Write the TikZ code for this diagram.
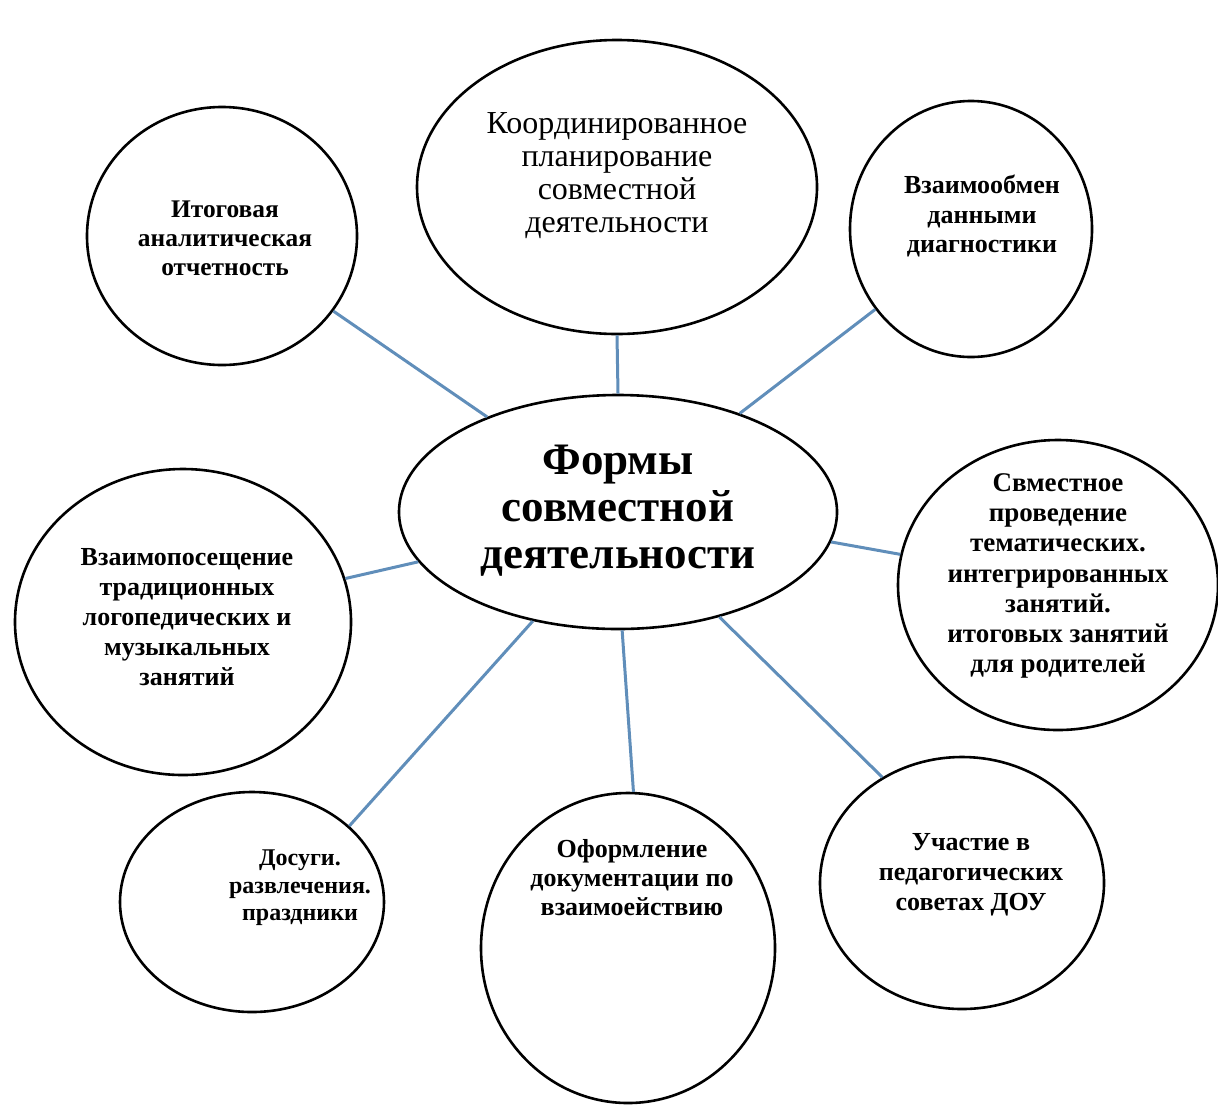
\documentclass[tikz,border=0pt]{standalone}
\usepackage{fontspec}
\setmainfont{Liberation Serif}
\usetikzlibrary{shapes.geometric}
\definecolor{linkblue}{RGB}{96,142,186}

\begin{document}
\begin{tikzpicture}[x=0.5pt, y=-0.5pt,
    bubble/.style={ellipse, draw, line width=1.3pt, inner sep=0pt},
    link/.style={linkblue, line width=1.5pt},
    txt/.style 2 args={align=center, inner sep=0pt,
      font=\fontsize{#1}{#2}\selectfont\bfseries}]

    \useasboundingbox (0,0) rectangle (1218,1104);

    % ellipses: minimum width = rx, minimum height = ry (in pt)
    \node[bubble, minimum width=219pt, minimum height=117pt] (form)    at (618,512) {};
    \node[bubble, minimum width=200pt, minimum height=147pt] (plan)    at (617,187) {};
    \node[bubble, minimum width=135pt, minimum height=129pt] (report)  at (222,236) {};
    \node[bubble, minimum width=121pt, minimum height=128pt] (exch)    at (971,229) {};
    \node[bubble, minimum width=168pt, minimum height=153pt] (visit)   at (183,622) {};
    \node[bubble, minimum width=160pt, minimum height=145pt] (lesson)  at (1058,585) {};
    \node[bubble, minimum width=132pt, minimum height=110pt] (leisure) at (252,902) {};
    \node[bubble, minimum width=147pt, minimum height=155pt] (doc)     at (628,948) {};
    \node[bubble, minimum width=142pt, minimum height=126pt] (council) at (962,883) {};

    % texts
    \node[txt={22.5}{23.5}] (formtxt) at (618,511)
      {Формы\\совместной\\деятельности};
    \node[txt={16}{16.5}, font=\fontsize{16}{16.5}\selectfont\mdseries] (plantxt) at (617,176)
      {Координированное\\планирование\\совместной\\деятельности};
    \node[txt={12.7}{14.5}] (reporttxt) at (225,238)
      {Итоговая\\аналитическая\\отчетность};
    \node[txt={13}{14.75}] (exchtxt) at (982,216)
      {Взаимообмен\\данными\\диагностики};
    \node[txt={13}{15}] (visittxt) at (187,617)
      {Взаимопосещение\\традиционных\\логопедических и\\музыкальных\\занятий};
    \node[txt={13.5}{15.1}] (lessontxt) at (1058,576)
      {Свместное\\проведение\\тематических.\\интегрированных\\занятий.\\итоговых занятий\\для родителей};
    \node[txt={12}{13.75}] (leisuretxt) at (300,888)
      {Досуги.\\развлечения.\\праздники};
    \node[txt={13}{14.5}] (doctxt) at (632,878)
      {Оформление\\документации по\\взаимоействию};
    \node[txt={13}{15}] (counciltxt) at (971,875)
      {Участие в\\педагогических\\советах ДОУ};

    % connectors
    \draw[link] (form.90)  -- (plan.270);
    \draw[link] (form.144) -- (report.-34);
    \draw[link] (form.39)  -- (exch.220);
    \draw[link] (form.194) -- (visit.15);
    \draw[link] (form.-8)  -- (lesson.169);
    \draw[link] (form.232) -- (leisure.38);
    \draw[link] (form.-88) -- (doc.88);
    \draw[link] (form.-46) -- (council.127);

\end{tikzpicture}
\end{document}
